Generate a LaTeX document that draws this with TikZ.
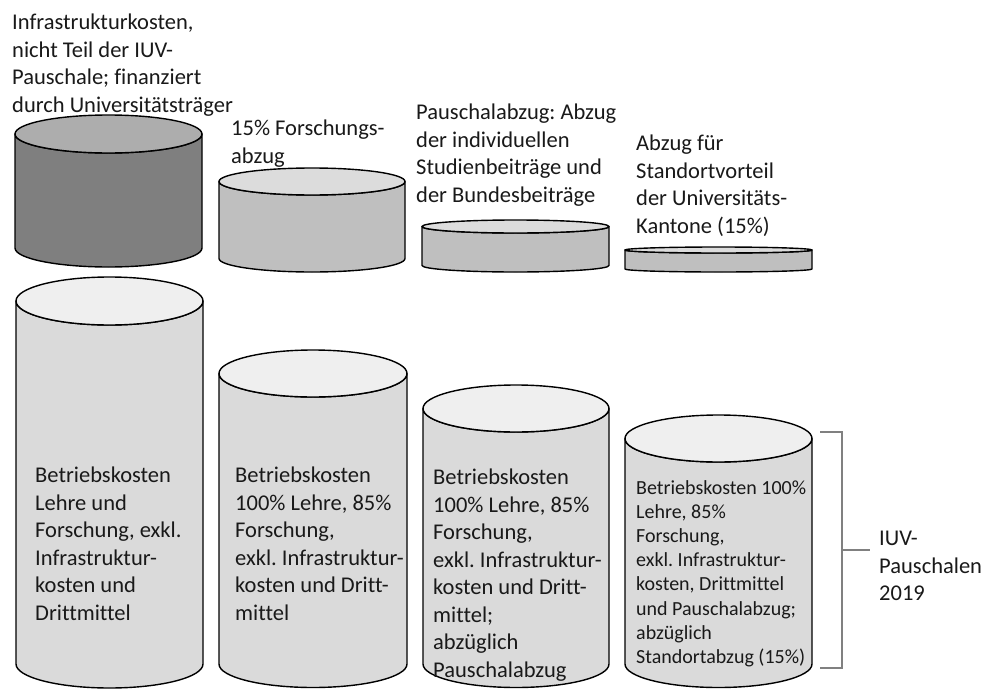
\documentclass[tikz,border=0pt]{standalone}
\usepackage{fontspec}
\setmainfont[Ligatures={NoCommon}]{Carlito}
\frenchspacing
\definecolor{darkside}{HTML}{7F7F7F}
\definecolor{darktop}{HTML}{ADADAD}
\definecolor{midside}{HTML}{BFBFBF}
\definecolor{midtop}{HTML}{DCDCDC}
\definecolor{bigside}{HTML}{DADADA}
\definecolor{bigtop}{HTML}{EFEFEF}
\definecolor{brackgray}{HTML}{808080}
\newcommand{\drawcyl}[7]{%
  \pgfmathsetmacro\cylcx{(#1+#2)/2}%
  \pgfmathsetmacro\cylrx{(#2-#1)/2}%
  \filldraw[cylline, fill=#6] (#1,#3) -- (#1,#4)
    arc[start angle=180, end angle=0, x radius=\cylrx, y radius=#5]
    -- (#2,#3)
    arc[start angle=0, end angle=180, x radius=\cylrx, y radius=#5] -- cycle;
  \filldraw[cylline, fill=#7] (\cylcx,#3) ellipse[x radius=\cylrx, y radius=#5];
}
\begin{document}
\begin{tikzpicture}[x=1pt, y=-1pt,
  cylline/.style={draw=black, line width=1.4pt, line join=round},
  lbl/.style={anchor=north west, inner sep=0pt, align=left, font=\fontsize{22.5}{27.5}\selectfont, text=black!90},
  smalllbl/.style={anchor=north west, inner sep=0pt, align=left, font=\fontsize{20}{24.2}\selectfont, text=black!90},
  brack/.style={draw=brackgray, line width=2.2pt}]
\useasboundingbox (0,0) rectangle (985,688);
\fill[white] (0,0) rectangle (985,688);

% top (deduction) cylinders
\drawcyl{15}{202}{134}{248}{19}{darkside}{darktop}
\drawcyl{219}{405}{181.5}{258.5}{13.5}{midside}{midtop}
\drawcyl{422}{609}{226.5}{265.5}{6.5}{midside}{midtop}
\drawcyl{625}{812}{250}{269}{3}{midside}{midtop}

% big cylinders
\drawcyl{16}{203}{301}{664}{24}{bigside}{bigtop}
\drawcyl{219}{407}{373.5}{664}{23.5}{bigside}{bigtop}
\drawcyl{423}{609}{408.5}{664}{23.5}{bigside}{bigtop}
\drawcyl{625}{812}{438.5}{664}{23.5}{bigside}{bigtop}

% labels above
\node[lbl] (la) at (12,14) {Infrastrukturkosten,\\nicht Teil der IUV-\\Pauschale; finanziert\\durch Universitätsträger};
\node[lbl] (lb) at (231,120) {15\% Forschungs-\\abzug};
\node[lbl] (lc) at (416,104) {Pauschalabzug: Abzug\\der individuellen\\Studienbeiträge und\\der Bundesbeiträge};
\node[lbl] (ld) at (636,135) {Abzug für\\Standortvorteil\\der Universitäts-\\Kantone (15\%)};

% texts inside big cylinders
\node[lbl] (t1) at (35,467) {Betriebskosten\\Lehre und\\Forschung, exkl.\\Infrastruktur-\\kosten und\\Drittmittel};
\node[lbl] (t2) at (235,467) {Betriebskosten\\100\% Lehre, 85\%\\Forschung,\\exkl. Infrastruktur-\\kosten und Dritt-\\mittel};
\node[lbl] (t3) at (433,469) {Betriebskosten\\100\% Lehre, 85\%\\Forschung,\\exkl. Infrastruktur-\\kosten und Dritt-\\mittel;\\abzüglich\\Pauschalabzug};
\node[smalllbl] (t4) at (636,480) {Betriebskosten 100\%\\Lehre, 85\%\\Forschung,\\exkl. Infrastruktur-\\kosten, Drittmittel\\und Pauschalabzug;\\abzüglich\\Standortabzug (15\%)};

% bracket
\coordinate (bt) at (820,432);
\coordinate (bb) at (820,668);
\coordinate (bm) at (870,550);
\node[lbl] (iuv) at (879,531) {IUV-\\Pauschalen\\2019};
\draw[brack] (bt) -- (842,432) -- (842,668) -- (bb);
\draw[brack] (842,550) -- (bm);
\end{tikzpicture}
\end{document}
